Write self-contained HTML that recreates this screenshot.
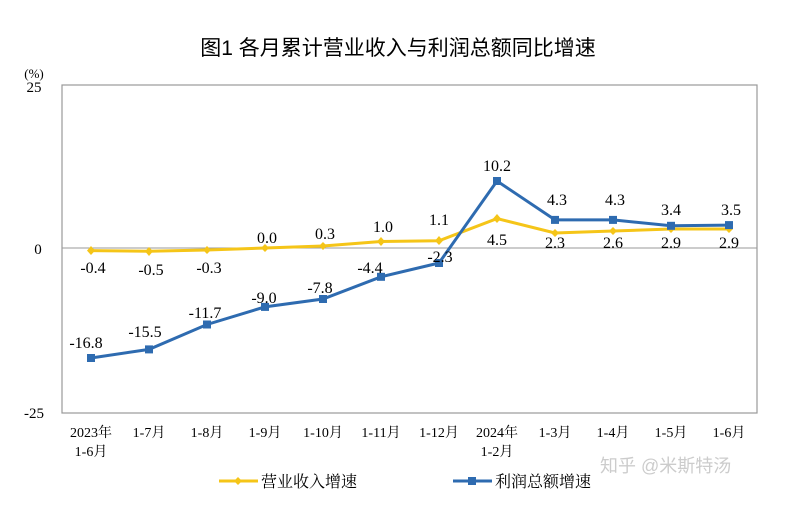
<!DOCTYPE html>
<html><head><meta charset="utf-8"><style>
body{margin:0;background:#fff;}
svg text{font-family:"Liberation Serif","Noto Serif CJK SC",serif;}
</style></head><body>
<svg width="794" height="500" xmlns="http://www.w3.org/2000/svg">
<rect width="794" height="500" fill="#fff"/>
<text x="398" y="55" text-anchor="middle" font-size="21" style="font-family:'Liberation Sans','Noto Sans CJK SC',sans-serif">图1  各月累计营业收入与利润总额同比增速</text>
<text x="34" y="78" font-size="13" text-anchor="middle">(%)</text>
<text x="34" y="92" font-size="15" text-anchor="middle">25</text>
<text x="38" y="254" font-size="15" text-anchor="middle">0</text>
<text x="34" y="418" font-size="15" text-anchor="middle">-25</text>
<rect x="62" y="85" width="695" height="328" fill="none" stroke="#999" stroke-width="1.2"/>
<line x1="62" y1="248" x2="757" y2="248" stroke="#999" stroke-width="1"/>
<g font-size="14" text-anchor="middle">
<text x="91" y="437">2023年</text><text x="91" y="456">1-6月</text>
<text x="149" y="437">1-7月</text><text x="207" y="437">1-8月</text><text x="265" y="437">1-9月</text>
<text x="323" y="437">1-10月</text><text x="381" y="437">1-11月</text><text x="439" y="437">1-12月</text>
<text x="497" y="437">2024年</text><text x="497" y="456">1-2月</text>
<text x="555" y="437">1-3月</text><text x="613" y="437">1-4月</text><text x="671" y="437">1-5月</text><text x="729" y="437">1-6月</text>
</g>
<polyline fill="none" stroke="#f5c518" stroke-width="3" points="91,250.6 149,251.3 207,250 265,248 323,246 381,241.5 439,240.8 497,218.6 555,233 613,231 671,229 729,229"/>
<g fill="#f5c518">
<polygon points="91,246 95,250.6 91,255 87,250.6"/><polygon points="149,247 153,251.3 149,256 145,251.3"/><polygon points="207,246 211,250 207,254 203,250"/><polygon points="265,244 269,248 265,252 261,248"/><polygon points="323,242 327,246 323,250 319,246"/><polygon points="381,237 385,241.5 381,246 377,241.5"/><polygon points="439,236 443,240.8 439,245 435,240.8"/><polygon points="497,214 501,218.6 497,223 493,218.6"/><polygon points="555,229 559,233 555,237 551,233"/><polygon points="613,227 617,231 613,235 609,231"/><polygon points="671,225 675,229 671,233 667,229"/><polygon points="729,225 733,229 729,233 725,229"/>
</g>
<polyline fill="none" stroke="#2e6bb0" stroke-width="3" points="91,358 149,349.4 207,324.5 265,306.9 323,299 381,276.8 439,263 497,181 555,219.9 613,219.9 671,225.8 729,225.1"/>
<g fill="#2e6bb0">
<rect x="87" y="354" width="8" height="8"/><rect x="145" y="345.4" width="8" height="8"/><rect x="203" y="320.5" width="8" height="8"/><rect x="261" y="302.9" width="8" height="8"/><rect x="319" y="295" width="8" height="8"/><rect x="377" y="272.8" width="8" height="8"/><rect x="435" y="259" width="8" height="8"/><rect x="493" y="177" width="8" height="8"/><rect x="551" y="215.9" width="8" height="8"/><rect x="609" y="215.9" width="8" height="8"/><rect x="667" y="221.8" width="8" height="8"/><rect x="725" y="221.1" width="8" height="8"/>
</g>
<g font-size="16" text-anchor="middle">
<text x="93" y="273">-0.4</text><text x="151" y="275">-0.5</text><text x="209" y="273">-0.3</text><text x="267" y="243">0.0</text><text x="325" y="239">0.3</text><text x="383" y="232">1.0</text><text x="439" y="225">1.1</text>
<text x="497" y="245">4.5</text><text x="555" y="248">2.3</text><text x="613" y="248">2.6</text><text x="671" y="248">2.9</text><text x="729" y="248">2.9</text>
<text x="86" y="348">-16.8</text><text x="145" y="337">-15.5</text><text x="205" y="318">-11.7</text><text x="264" y="303">-9.0</text><text x="320" y="293">-7.8</text><text x="370" y="273">-4.4</text><text x="440" y="262">-2.3</text>
<text x="497" y="171">10.2</text><text x="557" y="205">4.3</text><text x="615" y="205">4.3</text><text x="671" y="215">3.4</text><text x="731" y="215">3.5</text>
</g>
<line x1="219" y1="481" x2="258" y2="481" stroke="#f5c518" stroke-width="3"/>
<polygon points="238,477 242,481 238,485 234,481" fill="#f5c518"/>
<text x="261" y="487" font-size="16">营业收入增速</text>
<line x1="453" y1="481" x2="492" y2="481" stroke="#2e6bb0" stroke-width="3"/>
<rect x="468" y="477" width="8" height="8" fill="#2e6bb0"/>
<text x="495" y="487" font-size="16">利润总额增速</text>
<text x="600" y="472" font-size="18" fill="#ccc" style="font-family:'Liberation Sans','Noto Sans CJK SC',sans-serif">知乎 @米斯特汤</text>
</svg>
</body></html>
